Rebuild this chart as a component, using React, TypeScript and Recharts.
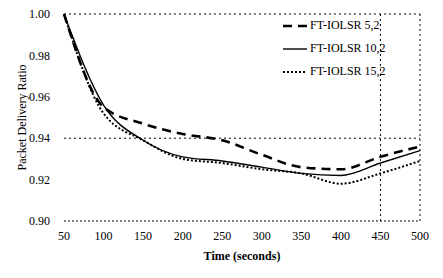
import { CartesianGrid, Line, LineChart, XAxis, YAxis } from "recharts";

const times = [50, 100, 150, 200, 250, 300, 350, 400, 450, 500];
const ft52 = [1.0, 0.955, 0.947, 0.942, 0.939, 0.932, 0.926, 0.925, 0.931, 0.936];
const ft102 = [1.0, 0.956, 0.939, 0.931, 0.929, 0.926, 0.923, 0.922, 0.928, 0.934];
const ft152 = [1.0, 0.952, 0.939, 0.93, 0.928, 0.925, 0.923, 0.918, 0.923, 0.929];
const yTicks = [0.9, 0.92, 0.94, 0.96, 0.98, 1.0];
const xTicks = times;

const data = times.map((t, i) => ({ t, a: ft52[i], b: ft102[i], c: ft152[i] }));

const font = "Liberation Serif, Times New Roman, serif";

const series = [
  { key: "a", name: "FT-IOLSR 5,2", dash: "9 6", width: 2.6 },
  { key: "b", name: "FT-IOLSR 10,2", dash: undefined, width: 1.4 },
  { key: "c", name: "FT-IOLSR 15,2", dash: "2 2", width: 2 },
];

const LegendBox = () => (
  <div
    style={{
      position: "absolute",
      left: 283,
      top: 14,
      fontFamily: font,
      fontSize: 12,
      color: "#000",
    }}
  >
    {series.map((s) => (
      <div key={s.key} style={{ display: "flex", alignItems: "center", height: 23 }}>
        <svg width={24} height={6}>
          <line x1={0} y1={3} x2={24} y2={3} stroke="#000" strokeWidth={s.width} strokeDasharray={s.dash} />
        </svg>
        <span style={{ marginLeft: 3 }}>{s.name}</span>
      </div>
    ))}
  </div>
);

export default function App() {
  return (
    <div style={{ position: "absolute", top: 0, left: 0, width: 443, height: 278, background: "#fff" }}>
      <LineChart width={443} height={278} data={data} margin={{ top: 14, right: 23, bottom: 0, left: 0 }}>
        <CartesianGrid
          stroke="#000"
          strokeDasharray="2 3"
          horizontalValues={[1.0, 0.94]}
          verticalValues={[450, 500]}
        />
        <XAxis
          dataKey="t"
          type="number"
          domain={[50, 500]}
          ticks={xTicks}
          tickLine={false}
          height={57}
          axisLine={{ stroke: "#000", strokeDasharray: "2 2" }}
          tick={{ fill: "#000", fontFamily: font, fontSize: 12 }}
          tickMargin={4}
          label={{ value: "Time (seconds)", position: "insideBottom", offset: 18, fill: "#000", fontFamily: font, fontSize: 12, fontWeight: "bold" }}
        />
        <YAxis
          type="number"
          domain={[0.9, 1.0]}
          ticks={yTicks}
          width={64}
          tickLine={false}
          axisLine={false}
          tickFormatter={(v: number) => v.toFixed(2)}
          tick={{ fill: "#000", fontFamily: font, fontSize: 12 }}
          tickMargin={8}
          label={{ value: "Packet Delivery Ratio", angle: -90, position: "insideLeft", offset: 22, style: { textAnchor: "middle" }, fill: "#000", fontFamily: font, fontSize: 12 }}
        />
        {series.map((s) => (
          <Line
            key={s.key}
            type="monotone"
            dataKey={s.key}
            name={s.name}
            stroke="#000"
            strokeWidth={s.width}
            strokeDasharray={s.dash}
            dot={false}
            isAnimationActive={false}
          />
        ))}
      </LineChart>
      <LegendBox />
    </div>
  );
}
